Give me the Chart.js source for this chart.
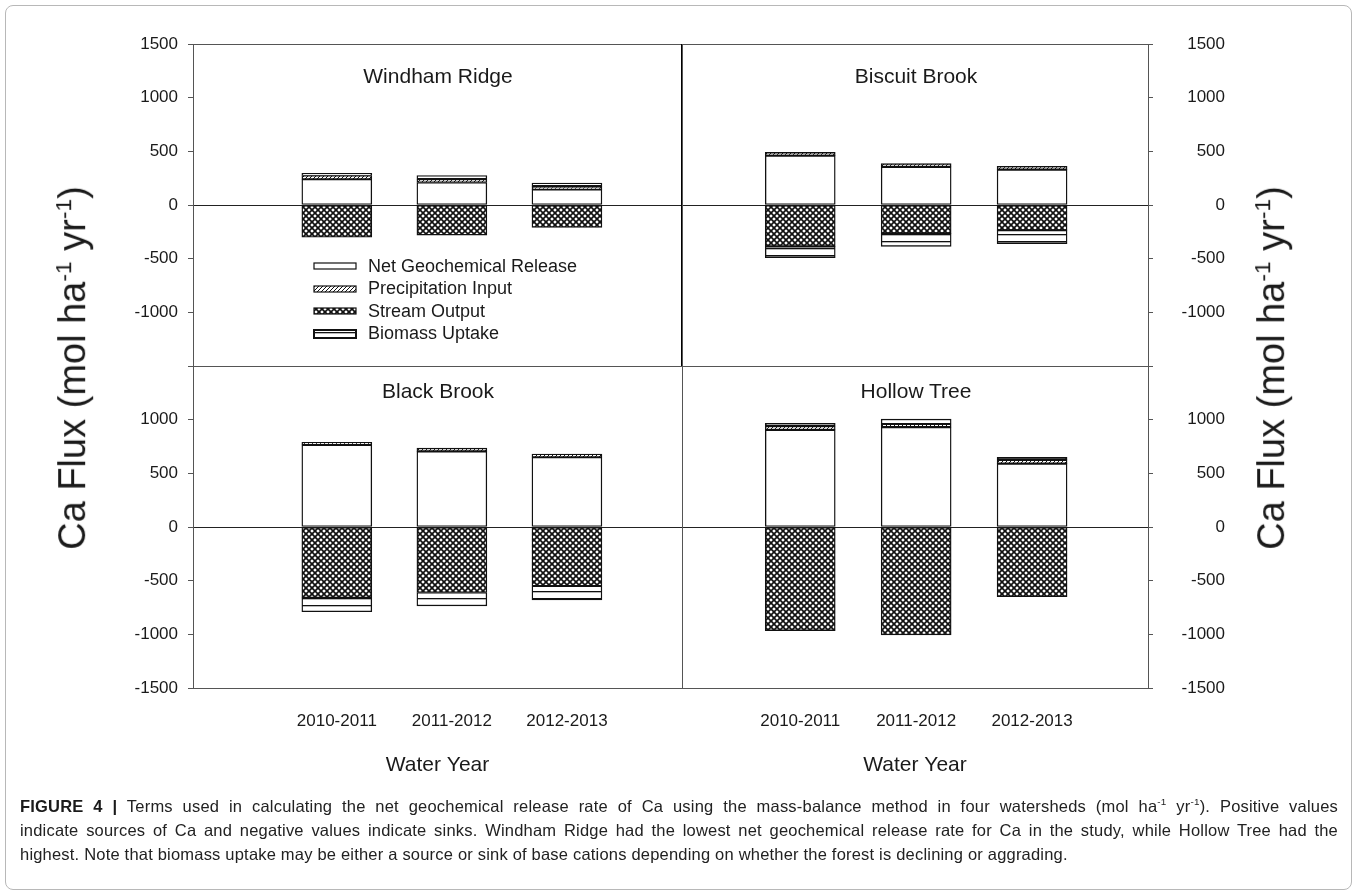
<!DOCTYPE html>
<html>
<head>
<meta charset="utf-8">
<script src="https://cdn.jsdelivr.net/npm/chart.js@4.4.0/dist/chart.umd.min.js"></script>
<style>
body { margin: 0; background: #fff; font-family: "Liberation Sans", Arial, sans-serif; color: #1a1a1a; }
#page { position: relative; width: 1358px; height: 895px; overflow: hidden; }
#page canvas.c { position: absolute; left: 0; top: 0; }
.frame { position: absolute; left: 5px; top: 5px; width: 1345px; height: 883px; border: 1px solid #b8b8b8; border-radius: 8px; }
.ptitle { position: absolute; font-size: 21px; transform: translate(-50%, -50%); white-space: nowrap; }
.ytitle { position: absolute; font-size: 38px; white-space: nowrap; transform: translate(-50%, -50%) rotate(-90deg); }
.ytitle sup, .caption sup { font-size: 0.6em; }
#legend { position: absolute; left: 313px; top: 255px; font-size: 18px; }
#legend .row { height: 22.5px; display: flex; align-items: center; }
#legend canvas { margin-right: 11px; }
.caption { position: absolute; left: 20px; top: 790px; width: 1318px; font-size: 16.5px; line-height: 24px; color: #222; letter-spacing: 0.2px; }
.caption .j { text-align: justify; text-align-last: justify; }
.caption b { color: #1a1a1a; }
</style>
</head>
<body>
<div id="page">
  <div class="frame"></div>
  <canvas class="c" id="tl" width="1358" height="895"></canvas>
  <canvas class="c" id="tr" width="1358" height="895"></canvas>
  <canvas class="c" id="bl" width="1358" height="895"></canvas>
  <canvas class="c" id="br" width="1358" height="895"></canvas>

  <div class="ptitle" style="left:438px;top:76px">Windham Ridge</div>
  <div class="ptitle" style="left:916px;top:76px">Biscuit Brook</div>
  <div class="ptitle" style="left:438px;top:391px">Black Brook</div>
  <div class="ptitle" style="left:916px;top:391px">Hollow Tree</div>

  <div class="ytitle" style="left:72px;top:368px">Ca Flux (mol ha<sup>-1</sup> yr<sup>-1</sup>)</div>
  <div class="ytitle" style="left:1271px;top:368px">Ca Flux (mol ha<sup>-1</sup> yr<sup>-1</sup>)</div>

  <div id="legend"></div>

  <div class="caption">
    <div class="j"><b>FIGURE 4 |</b> Terms used in calculating the net geochemical release rate of Ca using the mass-balance method in four watersheds (mol ha<sup>-1</sup> yr<sup>-1</sup>). Positive values</div>
    <div class="j">indicate sources of Ca and negative values indicate sinks. Windham Ridge had the lowest net geochemical release rate for Ca in the study, while Hollow Tree had the</div>
    <div>highest. Note that biomass uptake may be either a source or sink of base cations depending on whether the forest is declining or aggrading.</div>
  </div>
</div>

<script>
const years = ['2010-2011', '2011-2012', '2012-2013'];
const series = ['Net Geochemical Release', 'Precipitation Input', 'Stream Output', 'Biomass Uptake'];

// Windham Ridge
const windhamNgr = [240, 210, 145];
const windhamPrecip = [35, 30, 25];
const windhamStream = [-300, -280, -210];
const windhamBiomass = [20, 35, 35];

// Biscuit Brook
const biscuitNgr = [460, 355, 330];
const biscuitPrecip = [30, 30, 30];
const biscuitStream = [-385, -265, -235];
const biscuitBiomass = [-105, -120, -125];

// Black Brook
const blackNgr = [765, 705, 650];
const blackPrecip = [25, 30, 30];
const blackStream = [-660, -610, -550];
const blackBiomass = [-130, -125, -130];

// Hollow Tree
const hollowNgr = [905, 930, 590];
const hollowPrecip = [35, 30, 35];
const hollowStream = [-965, -1005, -650];
const hollowBiomass = [25, 45, 25];

const ink = '#1a1a1a';
const font = { family: '"Liberation Sans", Arial, sans-serif', size: 17 };

function makePattern(kind) {
  const c = document.createElement('canvas');
  const g = c.getContext('2d');
  if (kind === 'white') {
    c.width = 4; c.height = 4;
    g.fillStyle = '#fff'; g.fillRect(0, 0, 4, 4);
  } else if (kind === 'hatch') {
    c.width = 4; c.height = 4;
    g.fillStyle = '#fff'; g.fillRect(0, 0, 4, 4);
    g.strokeStyle = '#111'; g.lineWidth = 1;
    g.beginPath();
    g.moveTo(0, 4); g.lineTo(4, 0);
    g.moveTo(-1, 1); g.lineTo(1, -1);
    g.moveTo(3, 5); g.lineTo(5, 3);
    g.stroke();
  } else if (kind === 'cross') {
    c.width = 6; c.height = 6;
    g.fillStyle = '#fff'; g.fillRect(0, 0, 6, 6);
    g.strokeStyle = '#111'; g.lineWidth = 1.7;
    g.beginPath();
    g.moveTo(-1, -1); g.lineTo(7, 7);
    g.moveTo(-1, 7); g.lineTo(7, -1);
    g.stroke();
  } else {
    c.width = 8; c.height = 7;
    g.fillStyle = '#fff'; g.fillRect(0, 0, 8, 7);
    g.fillStyle = '#111'; g.fillRect(0, 3, 8, 1.3);
  }
  return g.createPattern(c, 'repeat');
}

const fills = [makePattern('white'), makePattern('hatch'), makePattern('cross'), makePattern('lines')];

const framePlugin = {
  id: 'frame',
  afterDraw(chart) {
    const a = chart.chartArea;
    const g = chart.ctx;
    g.save();
    g.strokeStyle = '#555';
    g.lineWidth = 1;
    g.strokeRect(a.left + 0.5, a.top + 0.5, a.width, a.height);
    if (chart.canvas.id === 'tl') {
      g.strokeStyle = '#000';
      g.lineWidth = 2;
      g.beginPath(); g.moveTo(a.right, a.top); g.lineTo(a.right, a.bottom); g.stroke();
    }
    g.restore();
  }
};

function panel(id, values, o) {
  new Chart(document.getElementById(id), {
    type: 'bar',
    data: {
      datasets: series.map((name, i) => ({
        label: name,
        data: values[i].map((v, j) => ({ x: j + 1, y: v })),
        backgroundColor: fills[i],
        borderColor: '#111',
        borderWidth: 1.4,
        borderSkipped: false,
        barThickness: 70
      }))
    },
    options: {
      responsive: false,
      animation: false,
      layout: { padding: o.pad },
      plugins: { legend: { display: false }, tooltip: { enabled: false } },
      scales: {
        x: {
          type: 'linear',
          stacked: true,
          offset: false,
          min: o.xmin,
          max: o.xmax,
          display: o.bottom,
          grid: { display: false, drawTicks: false, offset: false },
          border: { display: false },
          afterBuildTicks: s => { s.ticks = years.map((_, i) => ({ value: i + 1 })); },
          afterFit: s => { if (o.bottom) s.height = 100; },
          ticks: { callback: v => years[v - 1], padding: 23, font, color: ink, maxRotation: 0, autoSkip: false },
          title: { display: true, text: 'Water Year', font: { family: font.family, size: 21 }, color: ink, padding: { top: 0, bottom: 10 } }
        },
        y: {
          stacked: true,
          position: o.side,
          min: -1500,
          max: 1500,
          afterFit: s => { s.width = o.side === 'left' ? 193 : 77; },
          ticks: {
            stepSize: 500,
            font,
            color: ink,
            padding: o.side === 'left' ? 10 : 22,
            crossAlign: o.side === 'left' ? 'near' : 'far',
            callback: v => (v === o.hide ? '' : String(v))
          },
          grid: {
            color: c => (c.tick && c.tick.value === 0 ? '#222' : 'rgba(0,0,0,0)'),
            tickColor: '#555',
            tickLength: 5
          },
          border: { display: true, color: '#555', width: 1 }
        }
      }
    },
    plugins: [framePlugin]
  });
}

panel('tl', [windhamNgr, windhamPrecip, windhamStream, windhamBiomass],
  { pad: { left: 0, top: 44, right: 676, bottom: 529 }, side: 'left', xmin: -0.25, xmax: 4.0, bottom: false, hide: -1500 });
panel('tr', [biscuitNgr, biscuitPrecip, biscuitStream, biscuitBiomass],
  { pad: { left: 682, top: 44, right: 133, bottom: 529 }, side: 'right', xmin: -0.02, xmax: 4.0, bottom: false, hide: -1500 });
panel('bl', [blackNgr, blackPrecip, blackStream, blackBiomass],
  { pad: { left: 0, top: 366, right: 676, bottom: 107 }, side: 'left', xmin: -0.25, xmax: 4.0, bottom: true, hide: 1500 });
panel('br', [hollowNgr, hollowPrecip, hollowStream, hollowBiomass],
  { pad: { left: 682, top: 366, right: 133, bottom: 107 }, side: 'right', xmin: -0.02, xmax: 4.0, bottom: true, hide: 1500 });

// legend built from the same series names and fills
const legend = document.getElementById('legend');
series.forEach((name, i) => {
  const row = document.createElement('div');
  row.className = 'row';
  const sw = document.createElement('canvas');
  sw.width = 44; sw.height = 10;
  const g = sw.getContext('2d');
  const h = i === 3 ? 8 : 6;
  const y0 = (10 - h) / 2;
  g.fillStyle = fills[i];
  g.fillRect(1, y0, 42, h);
  g.strokeStyle = '#111';
  g.lineWidth = i === 3 ? 2 : 1.2;
  g.strokeRect(1, y0, 42, h);
  row.appendChild(sw);
  const t = document.createElement('span');
  t.textContent = name;
  row.appendChild(t);
  legend.appendChild(row);
});
</script>
</body>
</html>
